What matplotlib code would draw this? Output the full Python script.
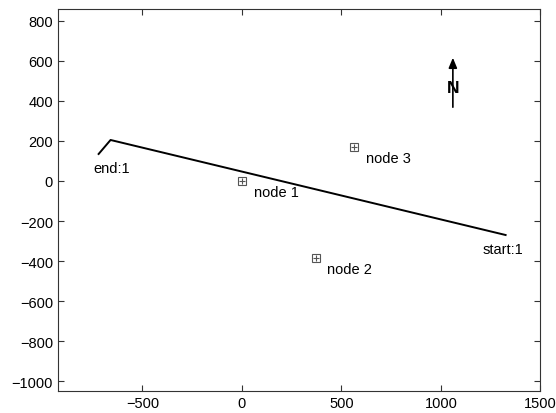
import matplotlib.pyplot as plt

plt.rcParams["font.family"] = ["Liberation Sans", "DejaVu Sans"]

# Route of mobile node 1 (start -> bend -> end)
route_x = [1325, -660, -720]
route_y = [-270, 205, 135]

# Static nodes
node_names = ["node 1", "node 2", "node 3"]
node_x = [0, 370, 565]
node_y = [0, -385, 170]

# Label anchors
label_dx, label_dy = 60, -55

fig = plt.figure(figsize=(5.56, 4.14), dpi=100)
ax = fig.add_axes([0.104, 0.053, 0.868, 0.923])

ax.plot(route_x, route_y, color="black", lw=1.4)
ax.text(-745, 65, "end:1", fontsize=10.5, va="center", ha="left")
ax.text(1210, -340, "start:1", fontsize=10.5, va="center", ha="left")

ax.plot(node_x, node_y, ls="none", marker="s", ms=6, mfc="none",
        mec="#555555", mew=0.8)
ax.plot(node_x, node_y, ls="none", marker="+", ms=5, mec="#555555", mew=0.8)
for name, x, y in zip(node_names, node_x, node_y):
    ax.text(x + label_dx, y + label_dy, name, fontsize=10.5,
            va="center", ha="left")

# north arrow
ax.annotate("", xy=(1060, 630), xytext=(1060, 355),
            arrowprops=dict(arrowstyle="-|>,head_length=0.6,head_width=0.25",
                            color="black", lw=1.2))
ax.text(1060, 465, "N", fontsize=12.5, fontweight="bold", ha="center",
        va="center")

ax.set_xlim(-925, 1500)
ax.set_ylim(-1050, 860)
ax.set_xticks([-500, 0, 500, 1000, 1500])
ax.set_yticks(range(-1000, 801, 200))
ax.tick_params(direction="in", top=True, right=True, length=4,
               labelsize=10.5, color="#333333")
for s in ax.spines.values():
    s.set_color("#333333")

fig.savefig("out.png", dpi=100)
